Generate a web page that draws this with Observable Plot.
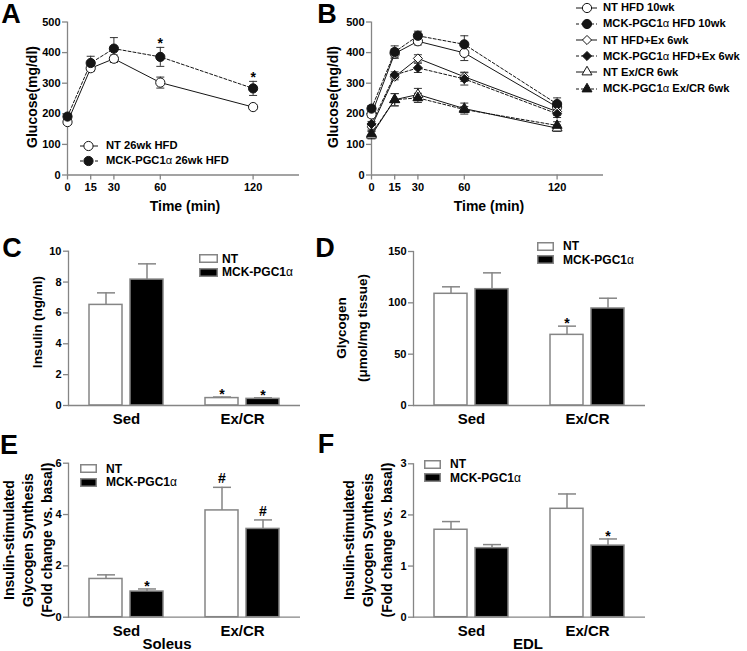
<!DOCTYPE html>
<html><head><meta charset="utf-8">
<script src="https://cdn.jsdelivr.net/npm/d3@7"></script>
<script src="https://cdn.jsdelivr.net/npm/@observablehq/plot@0.6"></script>
<style>
body{margin:0;background:#fff;}
#fig{position:relative;width:747px;height:651px;overflow:hidden;font-family:'Liberation Sans',Arial,Helvetica,sans-serif;font-weight:bold;color:#000;background:#fff;}
.pw{position:absolute;}
.pw svg{display:block;}
.lbl{position:absolute;white-space:nowrap;line-height:1;transform:translate(-50%,-50%);}
.rot{transform:translate(-50%,-50%) rotate(-90deg);text-align:center;}
.leg{position:absolute;display:flex;align-items:center;white-space:nowrap;line-height:1;transform:translateY(-50%);}
.leg svg{display:block;flex:none;}
.a{font-weight:normal;}
</style></head><body><div id="fig"></div><script>
// ---------- data ----------
const times = [0, 15, 30, 60, 120];
const timeTicks = [0, 15, 30, 60, 120];
const glucoseTicks = [0, 100, 200, 300, 400, 500];

// Panel A
const seriesA = ["NT 26wk HFD", "MCK-PGC1α 26wk HFD"];
const gluA_NT = [173, 349, 380, 302, 222];
const gluA_NT_sem = [8, 10, 12, 18, 8];
const gluA_MCK = [191, 366, 413, 386, 283];
const gluA_MCK_sem = [8, 22, 36, 31, 23];
const sigA_MCK = ["", "", "", "*", "*"];

// Panel B
const seriesB = ["NT HFD 10wk", "MCK-PGC1α HFD 10wk", "NT HFD+Ex 6wk", "MCK-PGC1α HFD+Ex 6wk", "NT Ex/CR 6wk", "MCK-PGC1α Ex/CR 6wk"];
const gluB_NT_HFD = [198, 397, 437, 399, 222];
const gluB_NT_HFD_sem = [10, 15, 12, 25, 15];
const gluB_MCK_HFD = [217, 402, 455, 427, 232];
const gluB_MCK_HFD_sem = [10, 20, 15, 28, 20];
const gluB_NT_HFDEx = [158, 321, 381, 321, 207];
const gluB_NT_HFDEx_sem = [8, 10, 12, 15, 12];
const gluB_MCK_HFDEx = [167, 327, 350, 314, 200];
const gluB_MCK_HFDEx_sem = [8, 10, 15, 20, 12];
const gluB_NT_ExCR = [130, 246, 263, 217, 153];
const gluB_NT_ExCR_sem = [12, 20, 20, 18, 10];
const gluB_MCK_ExCR = [135, 246, 252, 214, 162];
const gluB_MCK_ExCR_sem = [10, 20, 15, 10, 12];

// Bar panels
const conditions = ["Sed", "Ex/CR"];
const genotypes = ["NT", "MCK-PGC1α"];

const insulin_NT = [6.52, 0.48], insulin_NT_sem = [0.78, 0.07];
const insulin_MCK = [8.16, 0.43], insulin_MCK_sem = [1.02, 0.07];
const insulin_sig_NT = ["", "*"], insulin_sig_MCK = ["", "*"];
const insulinTicks = [0, 2, 4, 6, 8, 10];

const glycogen_NT = [108.8, 68.8], glycogen_NT_sem = [6.8, 8.5];
const glycogen_MCK = [113.3, 94.5], glycogen_MCK_sem = [15.9, 10.0];
const glycogen_sig_NT = ["", "*"], glycogen_sig_MCK = ["", ""];
const glycogenTicks = [0, 50, 100, 150];

const soleus_NT = [1.49, 4.16], soleus_NT_sem = [0.16, 0.90];
const soleus_MCK = [1.00, 3.44], soleus_MCK_sem = [0.10, 0.35];
const soleus_sig_NT = ["", "#"], soleus_sig_MCK = ["*", "#"];
const soleusTicks = [0, 2, 4, 6];

const edl_NT = [1.71, 2.12], edl_NT_sem = [0.16, 0.29];
const edl_MCK = [1.35, 1.40], edl_MCK_sem = [0.07, 0.13];
const edl_sig_NT = ["", ""], edl_sig_MCK = ["", "*"];
const edlTicks = [0, 1, 2, 3];

// ---------- styling ----------
const GRAY = "#858585";
const INK = "#151515";
const AXW = 1.3;
const FONT = "'Liberation Sans', Arial, Helvetica, sans-serif";
const plotStyle = {fontFamily: FONT, fontSize: "11px", fontWeight: "bold", background: "none", overflow: "visible", color: "#000"};
const fmt = d => String(d);
const capSymbol = {draw(ctx, size) { const w = Math.sqrt(size / Math.PI); ctx.moveTo(-w, 0); ctx.lineTo(w, 0); }};
const symbolDefs = {circle: {d3: d3.symbolCircle, r: 4.6}, diamond2: {d3: d3.symbolDiamond2, r: 4.1}, triangle: {d3: d3.symbolTriangle, r: 3.7}};

const fig = document.getElementById("fig");
function place(node, left, top, width) {
  const w = document.createElement("div");
  w.className = "pw";
  w.style.left = left + "px"; w.style.top = top + "px"; w.style.width = width + "px";
  w.appendChild(node);
  fig.appendChild(w);
}
function esc(s) { return s.replace(/&/g, "&amp;").replace(/</g, "&lt;").replace(/α/g, '<span class="a">α</span>'); }
function label(html, x, y, size, rot, lh) {
  const d = document.createElement("div");
  d.className = "lbl" + (rot ? " rot" : "");
  d.style.left = x + "px"; d.style.top = y + "px"; d.style.fontSize = size + "px";
  if (lh) d.style.lineHeight = lh + "px";
  d.innerHTML = html;
  fig.appendChild(d);
}
function legendRow(x, y, swatch, text, gap, size) {
  const d = document.createElement("div");
  d.className = "leg";
  d.style.left = x + "px"; d.style.top = y + "px"; d.style.fontSize = size + "px";
  d.innerHTML = swatch + `<span style="margin-left:${gap}px">${esc(text)}</span>`;
  fig.appendChild(d);
}
function lineSwatch(w, mx, sym, filled, dashed) {
  const s = symbolDefs[sym];
  const p = d3.symbol(s.d3, Math.PI * s.r * s.r)();
  return `<svg width="${w}" height="12"><line x1="0" x2="${w}" y1="6" y2="6" stroke="${INK}" stroke-width="1" ${dashed ? 'stroke-dasharray="3,2"' : ""}/><path transform="translate(${mx},6)" d="${p}" fill="${filled ? INK : "#fff"}" stroke="${INK}" stroke-width="1"/></svg>`;
}
function boxSwatch(w, filled) {
  return `<svg width="${w}" height="9"><rect x="0.75" y="0.75" width="${w - 1.5}" height="7.5" fill="${filled ? "#000" : "#fff"}" stroke="${GRAY}" stroke-width="1.5"/></svg>`;
}

// ---------- line panels ----------
function linePanel(series) {
  const rows = series.flatMap(s => times.map((t, i) => ({name: s.name, t, m: s.mean[i], e: s.sem[i], sig: s.sig ? s.sig[i] : ""})));
  const marks = [
    Plot.ruleY([0], {stroke: GRAY, strokeWidth: AXW}),
    Plot.ruleX([0], {stroke: GRAY, strokeWidth: AXW}),
    Plot.axisX({ticks: timeTicks, tickFormat: fmt, tickSize: 5, tickPadding: 3.5, stroke: GRAY, strokeWidth: AXW, fill: "#000", label: null, fontSize: 11}),
    Plot.axisY({ticks: glucoseTicks, tickFormat: fmt, tickSize: 5, tickPadding: 2, stroke: GRAY, strokeWidth: AXW, fill: "#000", label: null, fontSize: 11})
  ];
  for (const s of series) {
    marks.push(Plot.line(rows.filter(r => r.name === s.name), {x: "t", y: "m", stroke: INK, strokeWidth: 1, strokeDasharray: s.dashed ? "3,2" : "none"}));
  }
  marks.push(Plot.ruleX(rows, {x: "t", y1: d => d.m - d.e, y2: d => d.m + d.e, stroke: "#333", strokeWidth: 1}));
  marks.push(Plot.dot(rows, {x: "t", y: d => d.m + d.e, symbol: capSymbol, r: 4, stroke: "#333", fill: "none", strokeWidth: 1}));
  marks.push(Plot.dot(rows, {x: "t", y: d => d.m - d.e, symbol: capSymbol, r: 4, stroke: "#333", fill: "none", strokeWidth: 1}));
  for (const s of series) {
    marks.push(Plot.dot(rows.filter(r => r.name === s.name), {x: "t", y: "m", symbol: s.symbol, r: symbolDefs[s.symbol].r, fill: s.filled ? INK : "#fff", stroke: INK, strokeWidth: 1}));
  }
  marks.push(Plot.text(rows.filter(d => d.sig), {x: "t", y: d => d.m + d.e, text: "sig", lineAnchor: "bottom", dy: 1, fontSize: 14}));
  return Plot.plot({
    width: 310, height: 200, marginLeft: 67, marginRight: 11, marginTop: 21.5, marginBottom: 25.5,
    x: {domain: [0, 150]}, y: {domain: [0, 500]},
    style: plotStyle, marks
  });
}

const seriesDefsA = [
  {name: seriesA[0], mean: gluA_NT, sem: gluA_NT_sem, symbol: "circle", filled: false, dashed: false},
  {name: seriesA[1], mean: gluA_MCK, sem: gluA_MCK_sem, symbol: "circle", filled: true, dashed: true, sig: sigA_MCK}
];
const meansB = [gluB_NT_HFD, gluB_MCK_HFD, gluB_NT_HFDEx, gluB_MCK_HFDEx, gluB_NT_ExCR, gluB_MCK_ExCR];
const semsB = [gluB_NT_HFD_sem, gluB_MCK_HFD_sem, gluB_NT_HFDEx_sem, gluB_MCK_HFDEx_sem, gluB_NT_ExCR_sem, gluB_MCK_ExCR_sem];
const symsB = ["circle", "diamond2", "triangle"];
const seriesDefsB = seriesB.map((name, i) => ({name, mean: meansB[i], sem: semsB[i], symbol: symsB[Math.floor(i / 2)], filled: i % 2 === 1, dashed: i % 2 === 1}));

place(linePanel(seriesDefsA), 0, 0, 310);
place(linePanel(seriesDefsB), 304, 0, 310);

// ---------- bar panels ----------
function barPanel({nt, ntSem, mck, mckSem, sigNT, sigMCK, yMax, yTicks, mt, mb}) {
  const rows = conditions.flatMap((c, i) => [
    {cond: c, geno: genotypes[0], v: nt[i], e: ntSem[i], sig: sigNT[i]},
    {cond: c, geno: genotypes[1], v: mck[i], e: mckSem[i], sig: sigMCK[i]}
  ]);
  return Plot.plot({
    width: 310, height: 200, marginLeft: 68, marginRight: 10, marginTop: mt, marginBottom: mb,
    fx: {domain: conditions, padding: 0},
    x: {domain: genotypes, paddingInner: 0.19, paddingOuter: 0.476, axis: null},
    y: {domain: [0, yMax]},
    style: plotStyle,
    marks: [
      Plot.barY(rows, {fx: "cond", x: "geno", y: "v", fill: d => d.geno === genotypes[0] ? "#fff" : "#000", stroke: GRAY, strokeWidth: 1.5}),
      Plot.ruleX(rows, {fx: "cond", x: "geno", y1: "v", y2: d => d.v + d.e, stroke: GRAY, strokeWidth: 1.5}),
      Plot.dot(rows, {fx: "cond", x: "geno", y: d => d.v + d.e, symbol: capSymbol, r: 9, stroke: GRAY, strokeWidth: 1.5, fill: "none"}),
      Plot.text(rows.filter(d => d.sig === "*"), {fx: "cond", x: "geno", y: d => d.v + d.e, text: "sig", lineAnchor: "bottom", dy: 2, fontSize: 14}),
      Plot.text(rows.filter(d => d.sig === "#"), {fx: "cond", x: "geno", y: d => d.v + d.e, text: "sig", lineAnchor: "bottom", dy: -4, fontSize: 14}),
      Plot.ruleY([0], {stroke: GRAY, strokeWidth: AXW}),
      Plot.frame({anchor: "left", facetAnchor: "left", stroke: GRAY, strokeWidth: AXW}),
      Plot.axisY({ticks: yTicks, tickFormat: fmt, tickSize: 5, tickPadding: 2, stroke: GRAY, strokeWidth: AXW, fill: "#000", label: null, fontSize: 11}),
      Plot.axisFx({anchor: "bottom", tickSize: 0, tickPadding: 8, fontSize: 15, label: null, fill: "#000"})
    ]
  });
}

place(barPanel({nt: insulin_NT, ntSem: insulin_NT_sem, mck: insulin_MCK, mckSem: insulin_MCK_sem, sigNT: insulin_sig_NT, sigMCK: insulin_sig_MCK, yMax: 10, yTicks: insulinTicks, mt: 15.7, mb: 30}), 0, 235, 310);
place(barPanel({nt: glycogen_NT, ntSem: glycogen_NT_sem, mck: glycogen_MCK, mckSem: glycogen_MCK_sem, sigNT: glycogen_sig_NT, sigMCK: glycogen_sig_MCK, yMax: 150, yTicks: glycogenTicks, mt: 16, mb: 30}), 345, 235, 310);
place(barPanel({nt: soleus_NT, ntSem: soleus_NT_sem, mck: soleus_MCK, mckSem: soleus_MCK_sem, sigNT: soleus_sig_NT, sigMCK: soleus_sig_MCK, yMax: 6, yTicks: soleusTicks, mt: 17.7, mb: 28.3}), 0, 445, 310);
place(barPanel({nt: edl_NT, ntSem: edl_NT_sem, mck: edl_MCK, mckSem: edl_MCK_sem, sigNT: edl_sig_NT, sigMCK: edl_sig_MCK, yMax: 3, yTicks: edlTicks, mt: 18.3, mb: 28.3}), 345, 445, 310);

// ---------- text: panel letters, titles ----------
[["A", 11, 14], ["B", 327, 14], ["C", 12, 248], ["D", 325, 248], ["E", 9, 445], ["F", 326, 444]].forEach(([t, x, y]) => label(t, x, y, 27));
label("Time (min)", 185, 206, 14);
label("Time (min)", 489, 206, 14);
label("Glucose(mg/dl)", 32, 97, 14, true);
label("Glucose(mg/dl)", 333, 97, 14, true);
label("Insulin (ng/ml)", 38, 322, 13.5, true);
label("Glycogen<br>(μmol/mg tissue)", 352, 328, 13.5, true, 21);
label("Insulin-stimulated<br>Glycogen Synthesis<br>(Fold change vs. basal)", 28, 540, 14, true, 19);
label("Insulin-stimulated<br>Glycogen Synthesis<br>(Fold change vs. basal)", 368, 540, 14, true, 19);
label("Soleus", 167, 643, 15);
label("EDL", 528, 643, 15);

// ---------- legends ----------
seriesDefsA.forEach((s, i) => legendRow(80, 146 + i * 15, lineSwatch(18, 8.5, s.symbol, s.filled, s.dashed), s.name, 8, 11.2));
seriesDefsB.forEach((s, i) => legendRow(576, 8 + i * 16.1, lineSwatch(21, 11, s.symbol, s.filled, s.dashed), s.name, 6, 11.2));
[[199, 258.5, 19, 4], [537, 246, 17, 9], [80, 468.5, 17, 9], [424, 464, 17, 9]].forEach(([x, y, w, gap]) => {
  genotypes.forEach((g, i) => legendRow(x, y + i * 13.5, boxSwatch(w, i === 1), g, gap, 12));
});
</script></body></html>
